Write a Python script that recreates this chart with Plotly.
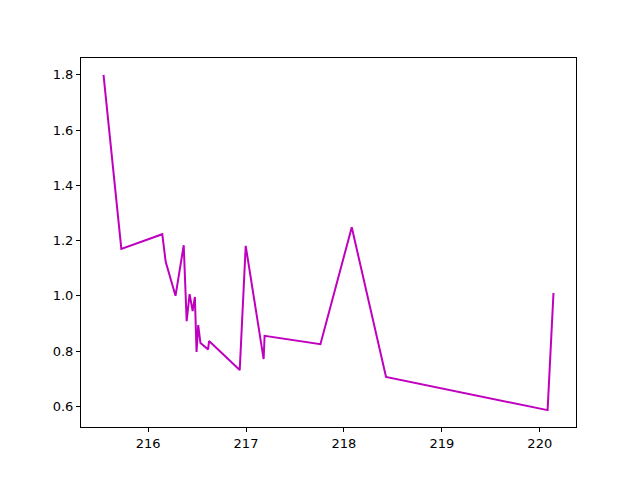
import plotly.graph_objects as go

x_vals = [215.545, 215.727, 216.145, 216.18, 216.28, 216.364, 216.394, 216.424, 216.455,
          216.478, 216.495, 216.512, 216.535, 216.613, 216.623, 216.936, 216.997, 217.18,
          217.19, 217.76, 218.08, 218.43, 220.08, 220.14]
y_vals = [1.80, 1.17, 1.223, 1.123, 1.0, 1.183, 0.908, 1.006, 0.945,
          0.996, 0.797, 0.894, 0.829, 0.806, 0.836, 0.731, 1.181, 0.771,
          0.855, 0.825, 1.248, 0.706, 0.586, 1.01]
x_ticks = [216, 217, 218, 219, 220]
y_ticks = [0.6, 0.8, 1.0, 1.2, 1.4, 1.6, 1.8]

fig = go.Figure(go.Scatter(x=x_vals, y=y_vals, mode="lines",
                           line=dict(color="#bf00bf", width=2)))

axis_common = dict(showgrid=False, zeroline=False, showline=True, mirror=True,
                   linecolor="black", linewidth=1, ticks="outside", ticklen=4,
                   tickcolor="black", tickfont=dict(family="DejaVu Sans", size=13, color="black"))

fig.update_layout(
    width=640, height=480,
    margin=dict(l=73, r=72, t=50, b=61, autoexpand=False),
    paper_bgcolor="white", plot_bgcolor="white",
    showlegend=False,
    xaxis=dict(range=[215.315, 220.37], tickvals=x_ticks, ticktext=[str(t) for t in x_ticks], **axis_common),
    yaxis=dict(range=[0.525, 1.861], tickvals=y_ticks, ticktext=[f"{t:.1f}" for t in y_ticks], **axis_common),
)

fig.write_html("out.html")
